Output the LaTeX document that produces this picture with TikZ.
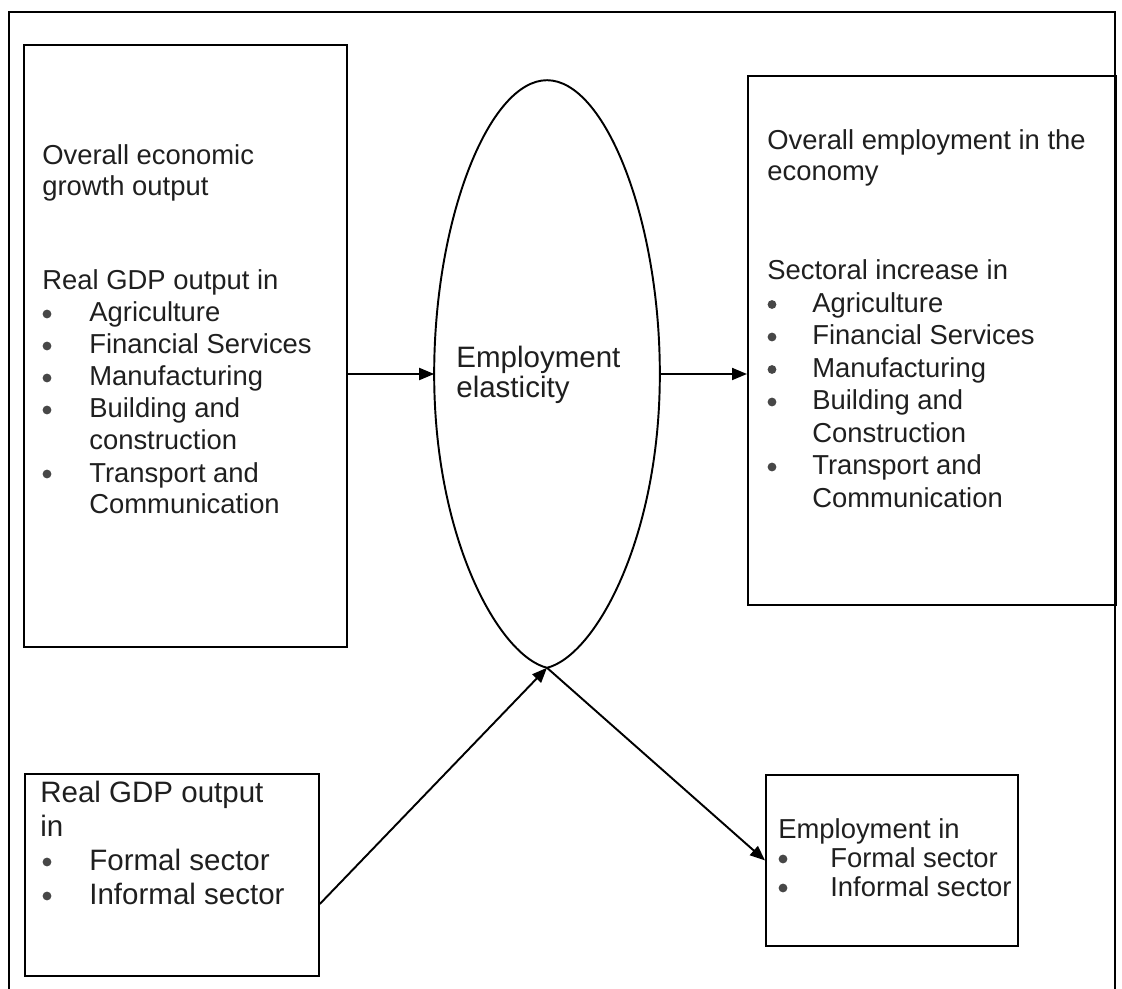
\documentclass[tikz,border=0pt]{standalone}
\usepackage{fontspec}
\setmainfont{Liberation Sans}
\usetikzlibrary{positioning,arrows.meta,shapes.geometric}

\begin{document}
\begin{tikzpicture}[x=0.02cm, y=-0.02cm,
      box/.style={draw, line width=1.1pt, inner sep=0pt, anchor=north west},
      txt/.style={anchor=base west, inner sep=0pt, text=black!88,
                  font=\fontsize{15.6}{18}\selectfont},
      bigtxt/.style={txt, font=\fontsize{16.8}{19}\selectfont},
      dotc/.style={fill=black!72},
      arr/.style={->, line width=1.1pt},
      >={Triangle[length=3mm, width=2.4mm]}]
    \useasboundingbox (0,0) rectangle (1122,989);
    % outer frame, open at the bottom
    \draw[line width=1.2pt] (9,989) |- (1115,12) -- (1115,989);

    % boxes
    \node[box, minimum width=6.46cm, minimum height=12.04cm] (growth) at (23,44) {};
    \node[box, minimum width=7.36cm, minimum height=10.58cm] (employ) at (747,75) {};
    \node[box, minimum width=5.88cm, minimum height=4.04cm] (gdpsec) at (24,773) {};
    \node[box, minimum width=5.04cm, minimum height=3.42cm] (empsec) at (765,774) {};

    % elasticity lens: round at the top, slightly pointed at the bottom
    \node[ellipse, inner sep=0pt, minimum width=4.5cm, minimum height=11.74cm] (elast) at (547,374) {};
    \draw[line width=1.1pt] (elast.north) .. controls +(58,0) and +(0,-155) .. (elast.east)
      .. controls +(0,165) and +(48,-12) .. (elast.south)
      .. controls +(-48,-12) and +(0,165) .. (elast.west)
      .. controls +(0,-155) and +(-58,0) .. (elast.north);

    % left: growth output
    \node[txt] (g1) at (42,165) {Overall economic};
    \node[txt] (g2) at (42,196) {growth output};
    \node[txt] (g3) at (42,290) {Real GDP output in};
    \foreach \b/\t [count=\i] in {1/Agriculture, 1/Financial Services, 1/Manufacturing,
        1/Building and, 0/construction, 1/Transport and, 0/Communication} {
      \node[txt] (gi\i) at (89,{290+32*\i}) {\t};
      \ifnum\b=1 \fill[dotc] (47,{282+32*\i}) circle[radius=4.4]; \fi
    }

    % right: employment
    \node[txt] (e1) at (767,150) {Overall employment in the};
    \node[txt] (e2) at (767,181) {economy};
    \node[txt] (e3) at (767,280) {Sectoral increase in};
    \foreach \b/\t [count=\i] in {1/Agriculture, 1/Financial Services, 1/Manufacturing,
        1/Building and, 0/Construction, 1/Transport and, 0/Communication} {
      \node[txt] (ei\i) at (812,{280+32.5*\i}) {\t};
      \ifnum\b=1 \fill[dotc] (772,{272+32.5*\i}) circle[radius=4.4]; \fi
    }

    % middle
    \node[bigtxt] (m1) at (456,368) {Employment};
    \node[bigtxt] (m2) at (456,398) {elasticity};

    % bottom left: formal / informal output
    \node[bigtxt] (s1) at (40,802) {Real GDP output};
    \node[bigtxt] (s2) at (40,836) {in};
    \node[bigtxt] (s3) at (89,870) {Formal sector};
    \node[bigtxt] (s4) at (89,904) {Informal sector};
    \fill[dotc] (47,862) circle[radius=4.4];
    \fill[dotc] (47,896) circle[radius=4.4];

    % bottom right: formal / informal employment
    \node[txt] (f1) at (778,838) {Employment in};
    \node[txt] (f2) at (830,867) {Formal sector};
    \node[txt] (f3) at (830,896) {Informal sector};
    \fill[dotc] (783,859) circle[radius=4.4];
    \fill[dotc] (783,888) circle[radius=4.4];

    % connectors
    \draw[arr] (growth.east |- elast.west) -- (elast.west);
    \draw[arr] (elast.east) -- (elast.east -| employ.west);
    \draw[arr] ([yshift=-0.58cm]gdpsec.east) -- (elast.south);
    \draw[arr] (elast.south) -- (empsec.west);
  \end{tikzpicture}
\end{document}
